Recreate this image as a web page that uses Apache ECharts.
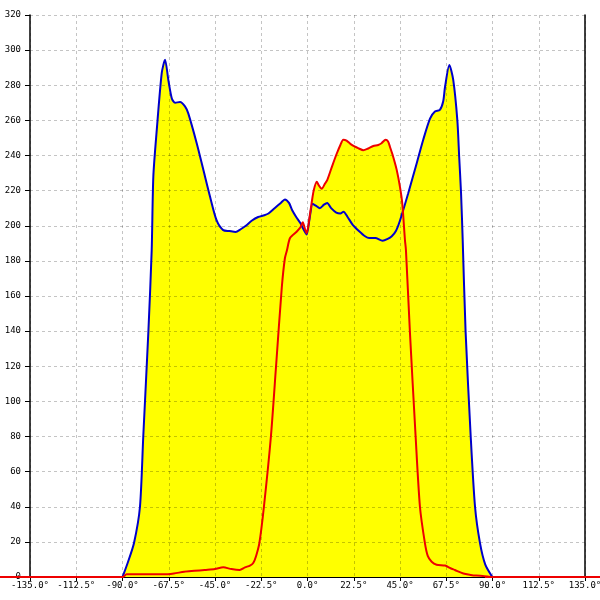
<!DOCTYPE html>
<html>
<head>
<meta charset="utf-8">
<script src="https://cdn.jsdelivr.net/npm/echarts@6/dist/echarts.min.js"></script>
<style>html,body{margin:0;padding:0;background:#fff;overflow:hidden}#c{width:600px;height:600px}</style>
</head>
<body>
<div id="c"></div>
<script>
// Tick settings
var xTicks = [-135, -112.5, -90, -67.5, -45, -22.5, 0, 22.5, 45, 67.5, 90, 112.5, 135];
var yTicks = [0, 20, 40, 60, 80, 100, 120, 140, 160, 180, 200, 220, 240, 260, 280, 300, 320];

// Blue series (angle in degrees, value)
var blueDeg = [-90, -87.5, -84.4, -81.5, -79.9, -77.4, -75.8, -75, -73.3, -70.9, -69.3, -67.7, -66, -64.4, -62, -59.6, -58, -53.9, -50.7, -47.4, -44.2, -41, -38, -35, -32.5, -30, -27, -24, -21, -19, -16, -13, -11, -9, -7.5, -5.5, -3.5, -1.5, -0.4, 1, 2.5, 4, 6, 8, 9.6, 11.5, 14, 16, 17.5, 19.5, 22, 25, 28, 30, 33, 36.5, 39, 41, 43, 45, 49, 53.1, 56.3, 59.6, 62, 64.4, 66, 66.9, 69, 70.9, 72.9, 73.8, 74.7, 75.5, 76.9, 79.4, 81.5, 83.9, 86.5, 89.9];
var blueVal = [0, 8, 19.4, 40, 80, 140, 186, 228, 255, 287, 294.5, 283, 272.5, 270, 270.5, 268, 264, 247, 232, 216.5, 203, 197.5, 197, 196.5, 198, 200, 203, 205, 206, 207, 210, 213, 215, 213, 209, 205, 201.5, 197, 195, 204, 212.5, 211.5, 210, 212, 213, 210, 207.5, 207, 208, 205, 200.5, 197, 194, 193, 193, 191.5, 192.5, 194, 197, 203, 218.5, 235.5, 249, 261, 265, 266, 270.7, 279, 291.6, 283, 260, 239, 218.5, 192, 140, 80, 40, 19.4, 7, 0];

// Red series (angle in degrees, value)
var redDeg = [-150, -90, -88, -80, -70, -65, -60, -55, -50, -45, -41, -37, -33, -30.4, -28, -26.4, -25, -23.4, -21.2, -17.8, -15.3, -12.5, -11, -10, -8.5, -5.3, -3.5, -2.3, -1.2, -0.4, 1, 2, 3, 4.5, 5.5, 6.9, 8.5, 9.6, 12, 14.2, 16, 17.4, 19, 21, 23.1, 25, 27.1, 29.5, 32, 34.4, 36, 38, 39.2, 40.1, 41.5, 43.4, 45, 46.1, 47.4, 47.9, 49.8, 52.6, 54.7, 57.1, 58.5, 60.4, 62.8, 66.9, 69.6, 71.7, 75.8, 79.4, 82, 86, 90, 150];
var redVal = [0, 0, 1.5, 1.5, 1.5, 2, 3, 3.5, 4, 4.5, 5.5, 4.5, 4, 5.5, 6.5, 8, 12, 19.4, 40, 80, 120, 165, 181.5, 186, 193, 196.6, 199, 202, 198, 195.7, 205, 212.8, 220, 225, 223, 221, 224, 226, 234, 241, 246, 249, 248.5, 246.5, 245, 244, 243, 244, 245.4, 246, 247, 249, 248, 245, 240, 231.8, 222, 212.8, 192, 186, 140, 80, 40, 19.4, 12, 8.7, 7, 6.5, 5, 4, 2, 1.2, 0.8, 0.5, 0, 0];

// Red zero baseline continuing past the plot edges (drawn in a full-width overlay grid)
var baseDeg = [-150, -90, null, 90, 150];
var baseVal = [0, 0, null, 0, 0];

function zip(a, b) { return a.map(function (v, i) { return v === null ? '-' : [v, b[i]]; }); }
var blueData = zip(blueDeg, blueVal);
var redData = zip(redDeg, redVal);
var baseData = zip(baseDeg, baseVal);

var labelFont = { fontFamily: 'DejaVu Sans Mono', fontSize: 9, color: '#000' };
var gridLine = { show: true, lineStyle: { color: 'rgba(0,0,0,0.23)', type: [3, 3], width: 1 } };
var SM = 0.25;

var chart = echarts.init(document.getElementById('c'), null, { renderer: 'canvas' });
chart.setOption({
  animation: false,
  backgroundColor: '#fff',
  grid: [
    { left: 30, right: 15, top: 15, bottom: 23, containLabel: false, outerBoundsMode: 'none' },
    { left: 0, right: 0, top: 15, bottom: 23, containLabel: false, outerBoundsMode: 'none' }
  ],
  xAxis: [{
    type: 'value', min: xTicks[0], max: xTicks[xTicks.length - 1], interval: 22.5, z: 3,
    axisLine: { show: true, onZero: false, lineStyle: { color: '#000', width: 1 } },
    axisTick: { show: true, length: 4, lineStyle: { color: '#000' } },
    axisLabel: Object.assign({ margin: 4, formatter: function (v) { return v.toFixed(1) + '°'; } }, labelFont),
    splitLine: gridLine
  }, {
    type: 'value', gridIndex: 1, min: -146, max: 146, show: false
  }],
  yAxis: [{
    type: 'value', min: yTicks[0], max: yTicks[yTicks.length - 1], interval: 20, z: 3, position: 'left',
    axisLine: { show: true, onZero: false, lineStyle: { color: '#000', width: 1.5 } },
    axisTick: { show: true, length: 5, lineStyle: { color: '#000' } },
    axisLabel: Object.assign({ margin: 9 }, labelFont),
    splitLine: gridLine
  }, {
    type: 'value', min: yTicks[0], max: yTicks[yTicks.length - 1], interval: 20, position: 'right', z: 3,
    axisLine: { show: true, onZero: false, lineStyle: { color: '#000', width: 1.5 } },
    axisTick: { show: false }, axisLabel: { show: false }, splitLine: { show: false }
  }, {
    type: 'value', gridIndex: 1, min: yTicks[0], max: yTicks[yTicks.length - 1], show: false
  }],
  series: [
    { type: 'line', data: blueData, smooth: SM, symbol: 'none', z: 1,
      lineStyle: { width: 0 }, areaStyle: { color: '#ffff00', opacity: 1 } },
    { type: 'line', data: redData, smooth: SM, symbol: 'none', z: 1,
      lineStyle: { width: 0 }, areaStyle: { color: '#ffff00', opacity: 1 } },
    { type: 'line', data: blueData, smooth: SM, symbol: 'none', z: 5,
      lineStyle: { width: 2, color: '#0000cc' } },
    { type: 'line', data: redData, smooth: SM, symbol: 'none', z: 6,
      lineStyle: { width: 2, color: '#ee0000' } },
    { type: 'line', data: baseData, xAxisIndex: 1, yAxisIndex: 2, symbol: 'none', z: 6, clip: false,
      connectNulls: false, lineStyle: { width: 2, color: '#ee0000' } }
  ]
});
</script>
</body>
</html>
